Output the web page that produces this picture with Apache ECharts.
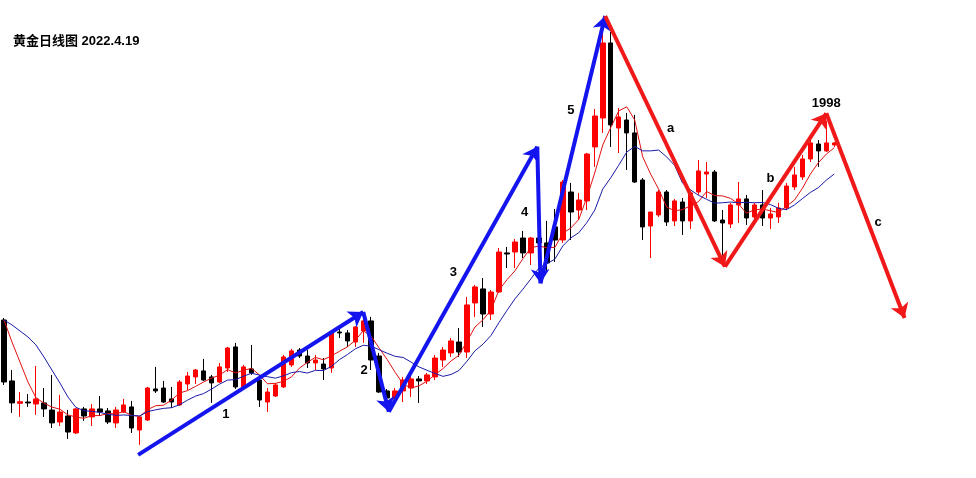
<!DOCTYPE html>
<html>
<head>
<meta charset="utf-8">
<script src="https://cdn.jsdelivr.net/npm/echarts@6/dist/echarts.min.js"></script>
<style>html,body{margin:0;padding:0;background:#fff}#c{width:976px;height:478px}</style>
</head>
<body>
<div id="c"></div>
<script>
const title = '黄金日线图 2022.4.19';
const opens = [1840,1794.3,1777.5,1778.5,1777,1777.8,1772.5,1763.5,1768,1755.3,
1773.3,1767.3,1773.3,1771.8,1762.8,1771,1774.8,1757.5,1765,1788.3,
1789,1780.8,1776.3,1792,1797.3,1801.8,1797.3,1793.5,1804,1819.8,
1789.8,1803.3,1795,1778.5,1783,1789.8,1806.3,1817.5,1813,1807.8,
1807,1804,1831,1830.3,1823.5,1831.8,1839.3,1813,1786.8,1780.8,
1786.8,1789,1795.8,1794.3,1797.3,1810,1815.3,1823.5,1816,1852.8,
1863.3,1844.5,1861,1890.3,1891,1901.5,1890.3,1901.5,1897.8,1909.8,
1900,1936,1922.5,1929.3,1969.8,1991.5,2047.8,1984,1990,1980.3,
1945,1910.5,1918.8,1936,1914.3,1928.5,1914.3,1936,1949.5,1951,
1915,1912,1926.3,1930.8,1917.3,1926.3,1916.5,1917.3,1924,1939.8,
1947.3,1960.8,1972,1966.8,1971.3];
const closes = [1793.5,1777.8,1778.7,1777.8,1780.8,1773.3,1762.8,1771,1756,1773.3,
1768,1773.3,1771,1763.5,1772.5,1776.3,1759,1767.3,1789,1786.8,
1778.5,1778.5,1793.5,1798,1802.5,1795,1792.8,1804.8,1819,1789.8,
1804.8,1800.3,1780,1786,1791.3,1812.3,1816.8,1813,1807.8,1810,
1803.3,1831,1830.3,1824.3,1834.8,1839.3,1810,1786,1781.5,1786.8,
1795,1795.8,1794.3,1798.8,1811.5,1817.5,1824.3,1816,1851.3,1864.8,
1844.5,1861,1891,1889.5,1898.5,1890.3,1901.5,1897.8,1882.8,1900,
1943.5,1921,1930,1964.5,1993,2047.8,1986.3,1992.3,1980.3,1943.5,
1909.8,1921,1936,1913.5,1929.3,1914.3,1935.3,1951.8,1951,1914.3,
1912.8,1926.3,1930.8,1916.5,1926.3,1916.5,1919.5,1924,1940.5,1948.8,
1960.8,1972.8,1966.8,1972.8,1972.8];
const lows = [1791.3,1770.3,1767.3,1774.8,1768.8,1767.3,1759,1760.5,1750.8,1754.5,
1764.3,1760.5,1768,1762,1759,1770.3,1755.3,1746.3,1764.3,1785.3,
1777.8,1774,1775.5,1787.5,1792,1794.3,1777.8,1792.8,1801,1788.3,
1789,1798.8,1774.8,1771,1782.3,1789,1804.8,1811.5,1804,1802.5,
1795,1800.3,1826.5,1819.8,1819.8,1822.8,1802.5,1785.3,1780,1780,
1778.5,1782.3,1777.8,1792,1795,1804.8,1812.3,1812.3,1811.5,1842.3,
1834.8,1840,1860.3,1879,1879,1886.5,1881.3,1885,1875.3,1883.5,
1897.8,1900,1915,1922.5,1954.8,1980.3,1969.8,1965.3,1952.5,1942.8,
1900,1886.5,1917.3,1910.5,1910.5,1903.8,1908.3,1933.8,1931.5,1913.5,
1881.3,1909,1912.8,1911.3,1911.3,1910.5,1908.3,1912.8,1922.5,1937.5,
1945,1958.5,1954.8,1966,1969.8];
const highs = [1841.5,1802.5,1786,1784.5,1805.5,1789,1798.8,1783.8,1772.5,1774,
1774.8,1777,1783,1774,1774.8,1780.8,1779.3,1768,1789.8,1804.8,
1794.3,1789.8,1795,1801,1803.3,1810.8,1798.8,1807.8,1819.8,1822.8,
1806.3,1821.3,1798.8,1789,1792.8,1813.8,1818.3,1819,1817.5,1813.8,
1811.5,1832.5,1834,1832.5,1835.5,1842.3,1842.3,1815.3,1788.3,1789,
1797.3,1798,1798,1800.3,1813.8,1819.8,1826.5,1834,1857.3,1866.3,
1871.5,1862.5,1894,1894.8,1900.8,1906.8,1902.3,1913.5,1914.3,1923.3,
1945,1942.8,1935.3,1965.3,1998.3,2057.5,2056,1999,1995.3,1993.8,
1946.5,1921,1937.5,1937.5,1930.8,1931.5,1936,1960,1958.5,1952.5,
1922.5,1927.8,1943.5,1933.8,1927.8,1937.5,1924,1927.8,1942.8,1954.8,
1963.8,1975,1975,1989.3,1973.5];
// moving-average values at the start of the window (before enough history)
const ma5Head = [1840,1823.5,1808.5,1793.5];
const ma10Head = [1840,1836.3,1831.8,1827.3,1821.3,1812.3,1802.5,1792.8,1782.3];
// wave turning points (x = trading-day index, y = price)
const blueWaveX = [16.8,45.0,48.2,66.8,67.2,75.3];
const blueWaveY = [1738.8,1846,1771.2,1970,1867.5,2068];
const redWaveX = [75.3,90.3,103,112.8];
const redWaveY = [2068,1880,1995,1841.5];
const labelNames = ['1','2','3','4','5','a','b','c','1998'];
const labelX = [27.8,45.1,56.3,65.2,71,83.5,96,109.5,103];
const labelY = [1769.5,1802.5,1876,1921,1997.5,1984,1946.5,1913.5,2002.8];
const totalSlots = 122;

const days = Array.from({length: totalSlots}, (_, i) => i + 1);
const kdata = opens.map((o, i) => [o, closes[i], lows[i], highs[i]]);
function ma(n, head) {
  return closes.map((c, i) => {
    if (i < n - 1) return head[i];
    let s = 0;
    for (let k = i - n + 1; k <= i; k++) s += closes[k];
    return +(s / n).toFixed(2);
  });
}
function segs(xs, ys) {
  const out = [];
  for (let i = 0; i < xs.length - 1; i++) out.push({coords: [[xs[i], ys[i]], [xs[i+1], ys[i+1]]]});
  return out;
}
const chart = echarts.init(document.getElementById('c'), null, {renderer: 'canvas'});
chart.setOption({
  animation: false,
  backgroundColor: '#ffffff',
  title: {text: title, left: 8, top: 30,
    textStyle: {fontSize: 13, fontWeight: 'bold', color: '#000', fontFamily: '"Liberation Sans","Noto Sans CJK SC",sans-serif'}},
  grid: {left: -2, top: 0, width: 976, height: 478},
  xAxis: [
    {type: 'category', data: days, boundaryGap: true, show: false},
    {type: 'value', min: -0.5, max: totalSlots - 0.5, show: false}
  ],
  yAxis: {type: 'value', min: 1721.5, max: 2080, show: false},
  series: [
    {type: 'candlestick', data: kdata, barWidth: 5,
      itemStyle: {color: '#ff0000', color0: '#000000', borderColor: '#ff0000', borderColor0: '#000000', borderWidth: 1}},
    {type: 'line', data: ma(5, ma5Head), symbol: 'none', lineStyle: {color: '#e01010', width: 1}},
    {type: 'line', data: ma(10, ma10Head), symbol: 'none', lineStyle: {color: '#1a1aa8', width: 1}},
    {type: 'lines', coordinateSystem: 'cartesian2d', xAxisIndex: 1, yAxisIndex: 0,
      symbol: ['none', 'arrow'], symbolSize: 14,
      lineStyle: {color: '#1414ee', width: 4, opacity: 1}, data: segs(blueWaveX, blueWaveY), z: 5},
    {type: 'lines', coordinateSystem: 'cartesian2d', xAxisIndex: 1, yAxisIndex: 0,
      symbol: ['none', 'arrow'], symbolSize: 14,
      lineStyle: {color: '#f01818', width: 4, opacity: 1}, data: segs(redWaveX, redWaveY), z: 5},
    {type: 'scatter', xAxisIndex: 1, yAxisIndex: 0, symbolSize: 0, itemStyle: {opacity: 1},
      data: labelNames.map((n, i) => ({value: [labelX[i], labelY[i]], name: n})),
      label: {show: true, position: 'inside', formatter: p => p.name, fontSize: 13, fontWeight: 'bold', color: '#000',
        fontFamily: '"Liberation Sans",Arial,sans-serif'}, z: 6}
  ]
});
</script>
</body>
</html>
